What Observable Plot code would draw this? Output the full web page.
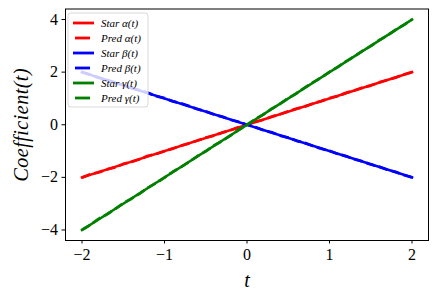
<!DOCTYPE html>
<html><head><meta charset="utf-8">
<script src="https://cdn.jsdelivr.net/npm/d3@7"></script>
<script src="https://cdn.jsdelivr.net/npm/@observablehq/plot@0.6"></script>
<style>
body{margin:0;background:#fff;}
svg{font-family:"Liberation Serif",serif;}
g[aria-label="x-axis label"] text, g[aria-label="y-axis label"] text{font-style:italic;font-size:20px;}
g[aria-label="y-axis label"] text{letter-spacing:0.5px;}
</style>
</head><body><div id="chart"></div>
<script>
const starT = [-2, 2];
const starAlpha = [-2, 2];
const starBeta = [2, -2];
const starGamma = [-4, 4];
const predT = [-2.0,-1.9,-1.8,-1.7,-1.6,-1.5,-1.4,-1.3,-1.2,-1.1,-1.0,-0.9,-0.8,-0.7,-0.6,-0.5,-0.4,-0.3,-0.2,-0.1,0.0,0.1,0.2,0.3,0.4,0.5,0.6,0.7,0.8,0.9,1.0,1.1,1.2,1.3,1.4,1.5,1.6,1.7,1.8,1.9,2.0];
const predAlpha = [-2.01,-1.88,-1.81,-1.70,-1.62,-1.49,-1.41,-1.31,-1.18,-1.11,-1.00,-0.91,-0.79,-0.71,-0.60,-0.49,-0.41,-0.30,-0.21,-0.09,0.00,0.11,0.19,0.31,0.40,0.51,0.61,0.69,0.81,0.90,1.01,1.09,1.21,1.30,1.41,1.49,1.61,1.70,1.79,1.91,2.00];
const predBeta = [2.00,1.91,1.79,1.71,1.59,1.51,1.39,1.31,1.21,1.09,1.01,0.89,0.81,0.71,0.59,0.51,0.39,0.31,0.19,0.11,0.00,-0.09,-0.21,-0.29,-0.41,-0.49,-0.61,-0.69,-0.81,-0.91,-0.99,-1.11,-1.19,-1.31,-1.39,-1.51,-1.59,-1.71,-1.79,-1.91,-2.00];
const predGamma = [-3.99,-3.81,-3.58,-3.41,-3.21,-2.98,-2.81,-2.62,-2.39,-2.21,-2.01,-1.79,-1.61,-1.41,-1.19,-1.01,-0.79,-0.61,-0.41,-0.19,0.00,0.21,0.39,0.61,0.79,1.01,1.19,1.41,1.61,1.79,2.01,2.19,2.41,2.59,2.81,2.99,3.21,3.39,3.61,3.79,4.00];
const xTicks = [-2,-1,0,1,2];
const yTicks = [-4,-2,0,2,4];
const seriesNames = ["Star α(t)","Pred α(t)","Star β(t)","Pred β(t)","Star γ(t)","Pred γ(t)"];
const seriesColors = ["#ff0000","#ff0000","#0000ff","#0000ff","#008000","#008000"];

const star = (vals) => starT.map((t,i)=>({t, v: vals[i]}));
const pred = (vals) => predT.map((t,i)=>({t, v: vals[i]}));
const fmt = d => (d < 0 ? "\u2212" + Math.abs(d) : String(d));

const lineOpts = (c, dashed) => ({x:"t", y:"v", stroke:c, strokeWidth: dashed ? 2.8 : 2.6, strokeDasharray: dashed ? "9,4" : null, strokeLinecap: dashed ? "butt" : "square"});

const chart = Plot.plot({
  width: 436, height: 300,
  marginLeft: 65, marginRight: 8, marginTop: 8.5, marginBottom: 60,
  x: {domain: [-2.2, 2.2]},
  y: {domain: [-4.4, 4.4]},
  style: {fontSize: "16px", fontFamily: "Liberation Serif, serif", color: "#000"},
  marks: [
    Plot.line(star(starAlpha), lineOpts(seriesColors[0], false)),
    Plot.line(pred(predAlpha), lineOpts(seriesColors[1], true)),
    Plot.line(star(starBeta), lineOpts(seriesColors[2], false)),
    Plot.line(pred(predBeta), lineOpts(seriesColors[3], true)),
    Plot.line(star(starGamma), lineOpts(seriesColors[4], false)),
    Plot.line(pred(predGamma), lineOpts(seriesColors[5], true)),
    Plot.frame({stroke: "#000", strokeWidth: 1}),
    Plot.axisX({ticks: xTicks, tickFormat: fmt, tickSize: 3.5, tickPadding: 5, label: "t", labelAnchor: "center", labelArrow: "none", labelOffset: 46}),
    Plot.axisY({ticks: yTicks, tickFormat: fmt, tickSize: 3.5, tickPadding: 4, label: "Coefficient(t)", labelAnchor: "center", labelArrow: "none", labelOffset: 52})
  ]
});
document.getElementById("chart").appendChild(chart);

// legend
const svg = d3.select(chart);
const lg = svg.append("g").attr("aria-label","legend").attr("text-anchor","start");
const lx = 68, ly = 13, rowH = 15;
lg.append("rect").attr("x", lx).attr("y", ly).attr("width", 80).attr("height", 94)
  .attr("rx", 3).attr("fill", "#fff").attr("fill-opacity", 0.8).attr("stroke", "#d9d9d9").attr("stroke-width", 1);
seriesNames.forEach((name, i) => {
  const y = ly + 10 + i * rowH;
  const dashed = name.startsWith("Pred");
  lg.append("line").attr("x1", lx + (dashed ? 7 : 5)).attr("x2", lx + (dashed ? 22 : 26)).attr("y1", y).attr("y2", y)
    .attr("stroke", seriesColors[i]).attr("stroke-width", 2.8);
  lg.append("text").attr("x", lx + 33).attr("y", y).attr("dy", "0.32em")
    .attr("font-size", "11px").attr("font-style", "italic").attr("fill", "#000").text(name);
});
</script></body></html>
